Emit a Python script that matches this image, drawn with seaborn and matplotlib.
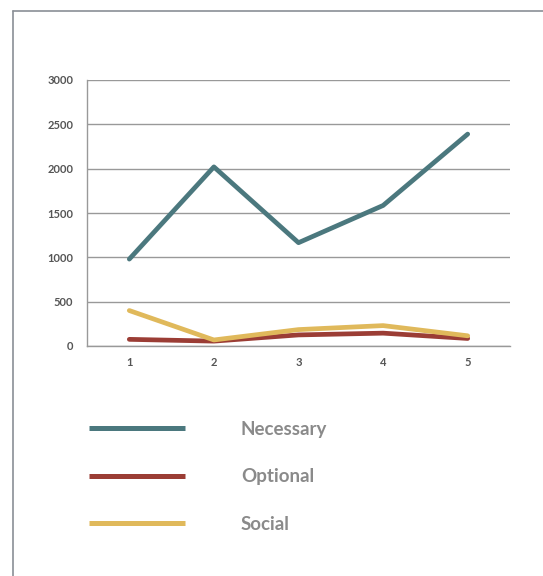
import numpy as np
import pandas as pd
import matplotlib
matplotlib.use("Agg")
import matplotlib.pyplot as plt
from matplotlib.lines import Line2D
import seaborn as sns

# data
periods = [1, 2, 3, 4, 5]
necessary = [980, 2020, 1165, 1585, 2390]
optional = [75, 55, 125, 145, 85]
social = [400, 68, 185, 230, 115]

series_names = ["Necessary", "Optional", "Social"]
colors = ["#4B787E", "#9B3D35", "#E0B95B"]

df = pd.DataFrame({
    "period": periods * 3,
    "value": necessary + optional + social,
    "series": [s for s in series_names for _ in periods],
})

sns.set_style("white")
plt.rcParams["font.family"] = ["Lato", "DejaVu Sans"]

fig = plt.figure(figsize=(5.43, 5.76), dpi=100)
ax = fig.add_axes([87 / 543, 1 - 346 / 576, (510 - 87) / 543, (346 - 80) / 576])

sns.lineplot(data=df, x="period", y="value", hue="series",
             palette=dict(zip(series_names, colors)), linewidth=3.4,
             solid_capstyle="round", ax=ax, legend=False)

ax.set_xlim(0.5, 5.5)
ax.set_ylim(0, 3000)
ax.set_yticks(np.arange(0, 3001, 500))
ax.set_xticks(periods)
ax.set_xticks(np.arange(0.5, 5.6, 1), minor=True)
ax.set_xlabel("")
ax.set_ylabel("")
ax.grid(axis="y", color="#999999", linewidth=1)
ax.set_axisbelow(True)
for side in ["top", "right"]:
    ax.spines[side].set_visible(False)
for side in ["left", "bottom"]:
    ax.spines[side].set_color("#999999")
    ax.spines[side].set_linewidth(1)
ax.tick_params(axis="x", which="major", length=0, labelsize=8, labelcolor="#555555", pad=8)
ax.tick_params(axis="x", which="minor", length=4, color="#999999", width=1, direction="out")
ax.tick_params(axis="y", length=4, color="#999999", width=1, labelsize=8, labelcolor="#555555", pad=6)
for lbl in ax.get_xticklabels() + ax.get_yticklabels():
    lbl.set_fontweight("bold")

# legend below the chart
handles = [Line2D([0], [0], color=c, linewidth=3.6, solid_capstyle="butt") for c in colors]
fig.legend(handles, series_names, loc="upper left",
           bbox_to_anchor=(72 / 543, 1 - 404 / 576), frameon=False,
           prop={"size": 13.5, "weight": "bold"}, labelcolor="#8a8a8a",
           handlelength=5.1, handletextpad=3.0, labelspacing=1.62)

# frame lines of the original page box
fig.add_artist(Line2D([13 / 543, 1], [1 - 11 / 576, 1 - 11 / 576], color="#8a8f96", linewidth=1.2))
fig.add_artist(Line2D([13 / 543, 13 / 543], [0, 1 - 11 / 576], color="#8a8f96", linewidth=1.2))

fig.savefig("out.png", dpi=100)
